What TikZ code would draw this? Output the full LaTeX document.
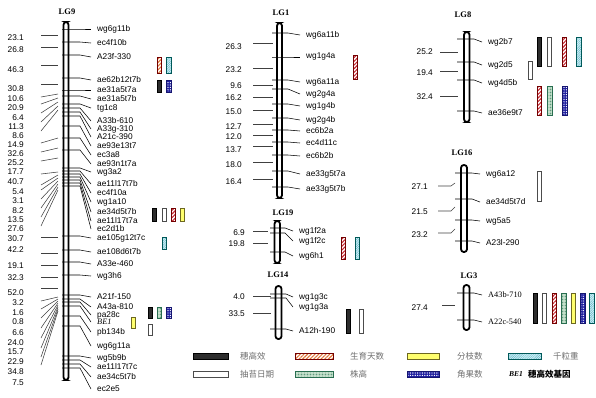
\documentclass[tikz,border=0pt]{standalone}
\usepackage{fontspec}
\setmainfont{Liberation Serif}
\setsansfont{Liberation Sans}
\newfontfamily\cjk{Noto Sans CJK SC}
\usetikzlibrary{patterns.meta}
\definecolor{barblack}{RGB}{45,45,45}
\definecolor{growred}{RGB}{200,40,50}
\definecolor{growora}{RGB}{225,120,60}
\definecolor{kwcyan}{RGB}{200,240,245}
\definecolor{kwline}{RGB}{90,170,190}
\definecolor{htgreen}{RGB}{210,235,215}
\definecolor{htdot}{RGB}{40,110,80}
\definecolor{bryel}{RGB}{255,255,110}
\definecolor{podblue}{RGB}{30,30,160}
\definecolor{legtext}{RGB}{110,110,110}

\tikzset{
  chrom/.style={line width=1.8pt, rounded corners=2.8pt, fill=white},
  tick/.style={line width=0.55pt},
  lft/.style={line width=0.55pt, black!75},
  mklabel/.style={anchor=west, inner xsep=6pt, inner ysep=0pt,
    font=\sffamily\fontsize{8.3}{9}\selectfont},
  dist/.style={anchor=east, inner sep=0pt, font=\sffamily\fontsize{8.3}{9}\selectfont},
  lgname/.style={font=\rmfamily\bfseries\fontsize{8.5}{9}\selectfont},
  eartall/.style={draw=black, fill=barblack, line width=0.5pt},
  bolt/.style={draw=black!70, fill=white, line width=0.5pt},
  growdays/.style={draw=red!45!black, line width=0.5pt, preaction={fill=white},
    pattern={Lines[angle=45,distance=2.6pt,line width=1.1pt]}, pattern color=#1},
  growdays/.default=growred,
  kgw/.style={draw=teal!70!black, line width=0.5pt, preaction={fill=kwcyan},
    pattern={Lines[angle=45,distance=1.6pt,line width=0.3pt]}, pattern color=kwline},
  plantht/.style={draw=htdot, line width=0.5pt, preaction={fill=htgreen},
    pattern={Dots[radius=0.45pt,distance=1.5pt]}, pattern color=htdot},
  branch/.style={draw=olive!70!black, fill=bryel, line width=0.5pt},
  pods/.style={draw=podblue!70!black, line width=0.5pt, preaction={fill=podblue},
    pattern={Dots[radius=0.7pt,distance=2.4pt]}, pattern color=white},
  legtxt/.style={anchor=west, inner sep=0pt, text=legtext, font=\cjk\fontsize{8.5}{9}\selectfont},
}

\begin{document}
\begin{tikzpicture}[x=1pt,y=-1pt]
\useasboundingbox (0,0) rectangle (596,397);

% ---- LG9
\node[lgname] (t9) at (67,12) {LG9};
\draw[chrom] (63.5,22) rectangle (68.5,380);
\foreach \name/\pos/\ly [count=\i] in {wg6g11b/29/29, ec4f10b/42/43,
    A23f-330/55/57, ae62b12t7b/78/80, ae31a5t7a/90/90, ae31a5t7b/96/99,
    tg1c8/104/108, A33b-610/108/121, A33g-310/112/129, A21c-390/116/137,
    ae93e13t7/126/146, ec3a8/138/155, ae93n1t7a/150/164, wg3a2/168/172,
    ae11l17t7b/171/184, ec4f10a/174/193, wg1a10/177/202, ae34d5t7b/180/212,
    ae11l17t7a/183/221, ec2d1b/186/229, ae105g12t7c/236/238,
    ae108d6t7b/250/252, A33e-460/262/264, wg3h6/275/276, A21f-150/295/297,
    A43a-810/299/307, pa28c/302/315, pb134b/316/332, wg6g11a/326/346,
    wg5b9b/356/358, ae11l17t7c/360/367, ae34c5t7b/364/377, ec2e5/368/389}{
  \node[mklabel] (g9m\i) at (91,\ly) {\name};
  \draw[tick] (62,\pos) -- (80,\pos) -- (g9m\i.west);
}
\node[mklabel, font=\rmfamily\itshape\fontsize{8.3}{9}\selectfont] (g9be) at (91,322) {BE1};
\draw[tick] (62,306) -- (80,306) -- (g9be.west);
\foreach \v/\y/\ly/\t [count=\i] in {23.1/38/35/35, 26.8/50/47/47,
    46.3/70/65/65, 30.8/89/84/84, 10.6/99/97/94, 20.9/108/104/98,
    6.4/118/113/102, 11.3/127/122/106, 8.6/136/131/110, 14.9/145/143/138,
    32.6/154/152/148, 25.2/163/161/158, 17.7/172/174/172, 40.7/182/185/175,
    5.4/192/190/178, 3.1/201/199/181, 8.2/211/208/184, 13.5/220/217/187,
    27.6/229/226/190, 30.7/239/237/237, 42.2/250/253/253, 19.1/266/265/265,
    32.3/278/277/277, 52.0/293/288/288, 3.2/303/301/297, 1.6/313/309/299,
    0.8/322/318/301, 6.6/333/328/303, 24.0/343/338/305, 15.7/352/348/307,
    22.9/362/357/309, 34.8/372/365/311}{
  \node[dist] (d9n\i) at (24,\y) {\v};
  \draw[lft] (41,\ly) -- (58,\t);
}
\node[dist] (d9n33) at (24,383) {7.5};
% trait bars
\draw[growdays=growora] (157,57) rectangle (161.5,73);
\draw[kgw] (166,57) rectangle (171,73);
\draw[eartall] (157,80) rectangle (161.5,92);
\draw[pods] (166,80) rectangle (171,92);
\draw[eartall] (152,208) rectangle (156.5,221);
\draw[bolt] (162,208) rectangle (166.5,221);
\draw[growdays] (171,208) rectangle (175.5,221);
\draw[branch] (180,208) rectangle (184.5,221);
\draw[kgw] (162,237) rectangle (166.5,249);
\draw[eartall] (148,307) rectangle (152.5,318);
\draw[plantht] (157,307) rectangle (161.5,318);
\draw[pods] (166,307) rectangle (171,318);
\draw[branch] (131,317) rectangle (135.5,328);
\draw[bolt] (148,324) rectangle (152.5,335);

% ---- LG1
\node[lgname] (t1) at (281,13) {LG1};
\draw[chrom] (277,23) rectangle (282,198);
\foreach \name/\pos/\ly [count=\i] in {wg6a11b/33/35, wg1g4a/57/57,
    wg6a11a/80/82, wg2g4a/89/94, wg1g4b/104/106, wg2g4b/118/120,
    ec6b2a/130/131, ec4d11c/142/143, ec6b2b/155/156, ae33g5t7a/171/174,
    ae33g5t7b/187/189}{
  \node[mklabel] (g1m\i) at (300,\ly) {\name};
  \draw[tick] (272,\pos) -- (288,\pos) -- (g1m\i.west);
}
\foreach \v/\y/\ly [count=\i] in {26.3/47/43, 23.2/70/68, 9.6/86/85,
    16.2/98/97, 15.0/112/110, 12.7/127/124, 12.0/137/135, 13.7/150/146,
    18.0/165/162, 16.4/182/179}{
  \node[dist] (d1n\i) at (242,\y) {\v};
  \draw[lft] (253,\ly) -- (273,\ly);
}
\draw[growdays] (353,55) rectangle (357.5,79);

% ---- LG8
\node[lgname] (t8) at (463,15) {LG8};
\draw[chrom] (464,32) rectangle (469.5,122);
\foreach \name/\pos/\ly [count=\i] in {wg2b7/39/42, wg2d5/62/65,
    wg4d5b/80/83, ae36e9t7/111/113}{
  \node[mklabel] (g8m\i) at (482,\ly) {\name};
  \draw[tick] (457,\pos) -- (474,\pos) -- (g8m\i.west);
}
\foreach \v/\y/\ly [count=\i] in {25.2/52/52, 19.4/73/71, 32.4/97/96}{
  \node[dist] (d8n\i) at (433,\y) {\v};
  \draw[lft] (440,\ly) -- (458,\ly);
}
\draw[eartall] (537,37) rectangle (541.5,66);
\draw[bolt] (547,37) rectangle (551.5,66);
\draw[growdays] (562,37) rectangle (566.5,66);
\draw[kgw] (576,37) rectangle (581,66);
\draw[bolt] (528,61) rectangle (532.5,79);
\draw[growdays] (537,86) rectangle (541.5,115);
\draw[plantht] (547,86) rectangle (552,115);
\draw[pods] (562,86) rectangle (567,115);

% ---- LG16
\node[lgname] (t16) at (462,153) {LG16};
\draw[chrom] (461,165) rectangle (467,252);
\foreach \name/\pos/\ly [count=\i] in {wg6a12/173/174, ae34d5t7d/199/202,
    wg5a5/220/221, A23l-290/241/243}{
  \node[mklabel] (g16m\i) at (480,\ly) {\name};
  \draw[tick] (455,\pos) -- (472,\pos) -- (g16m\i.west);
}
\foreach \v/\y/\ly/\t [count=\i] in {27.1/187/186/183, 21.5/212/211/207,
    23.2/235/233/229}{
  \node[dist] (d16n\i) at (428,\y) {\v};
  \draw[lft] (438,\ly) -- (451,\ly) -- (455,\t);
}
\draw[bolt] (537,171) rectangle (541.5,201);

% ---- LG19
\node[lgname] (t19) at (283,213) {LG19};
\draw[chrom] (274.5,221) rectangle (280,263);
\foreach \name/\pos/\ly [count=\i] in {wg1f2a/228/231, wg1f2c/233/241,
    wg6h1/252/256}{
  \node[mklabel] (g19m\i) at (293,\ly) {\name};
  \draw[tick] (270,\pos) -- (285,\pos) -- (g19m\i.west);
}
\foreach \v/\y/\ly [count=\i] in {6.9/233/231, 19.8/244/243}{
  \node[dist] (d19n\i) at (245,\y) {\v};
  \draw[lft] (253,\ly) -- (268,\ly);
}
\draw[growdays] (341,237) rectangle (345.5,259);
\draw[kgw] (355,237) rectangle (359.5,259);

% ---- LG14
\node[lgname] (t14) at (278,275) {LG14};
\draw[chrom] (275.5,286) rectangle (281.5,339);
\foreach \name/\pos/\ly [count=\i] in {wg1g3c/294/297, wg1g3a/298/307,
    A12h-190/329/331}{
  \node[mklabel] (g14m\i) at (293,\ly) {\name};
  \draw[tick] (270,\pos) -- (286,\pos) -- (g14m\i.west);
}
\foreach \v/\y/\ly [count=\i] in {4.0/297/296, 33.5/314/313}{
  \node[dist] (d14n\i) at (245,\y) {\v};
  \draw[lft] (253,\ly) -- (271,\ly);
}
\draw[eartall] (346,309) rectangle (350.5,333);
\draw[bolt] (359,309) rectangle (363.5,333);

% ---- LG3
\node[lgname] (t3) at (469,276) {LG3};
\draw[chrom] (463.5,285) rectangle (469.5,330);
\foreach \name/\pos/\ly [count=\i] in {A43b-710/293/295, A22c-540/320/322}{
  \node[mklabel, font=\rmfamily\fontsize{8.3}{9}\selectfont] (g3m\i) at (482,\ly) {\name};
  \draw[tick] (457,\pos) -- (474,\pos) -- (g3m\i.west);
}
\node[dist] (d3n1) at (428,308) {27.4};
\draw[lft] (442,305) -- (455,305);
\draw[eartall] (533,293) rectangle (537.5,323);
\draw[bolt] (542,293) rectangle (546.5,323);
\draw[growdays] (552,293) rectangle (556.5,323);
\draw[plantht] (561,293) rectangle (566,323);
\draw[branch] (571,293) rectangle (575.5,323);
\draw[pods] (580,293) rectangle (585,323);
\draw[kgw] (589,293) rectangle (594,323);

% ---- legend
\draw[eartall] (193,353) rectangle (228,359);
\node[legtxt] (k1) at (240,356) {穗高效};
\draw[growdays=growora] (295,353) rectangle (333,359);
\node[legtxt] (k2) at (350,356) {生育天数};
\draw[branch] (407,353) rectangle (439,359);
\node[legtxt] (k3) at (457,356) {分枝数};
\draw[kgw] (508,353) rectangle (541,359);
\node[legtxt] (k4) at (553,356) {千粒重};
\draw[bolt] (193,371) rectangle (228,377);
\node[legtxt] (k5) at (240,374) {抽苔日期};
\draw[plantht] (295,371) rectangle (333,377);
\node[legtxt] (k6) at (350,374) {株高};
\draw[pods] (407,371) rectangle (439,377);
\node[legtxt] (k7) at (457,374) {角果数};
\node[anchor=west, inner sep=0pt, font=\rmfamily\bfseries\itshape\fontsize{7.5}{9}\selectfont] (k8) at (509,374) {BE1};
\node[anchor=west, inner sep=0pt, font=\cjk\bfseries\fontsize{8.5}{9}\selectfont] (k9) at (528,374) {穗高效基因};
\end{tikzpicture}
\end{document}
